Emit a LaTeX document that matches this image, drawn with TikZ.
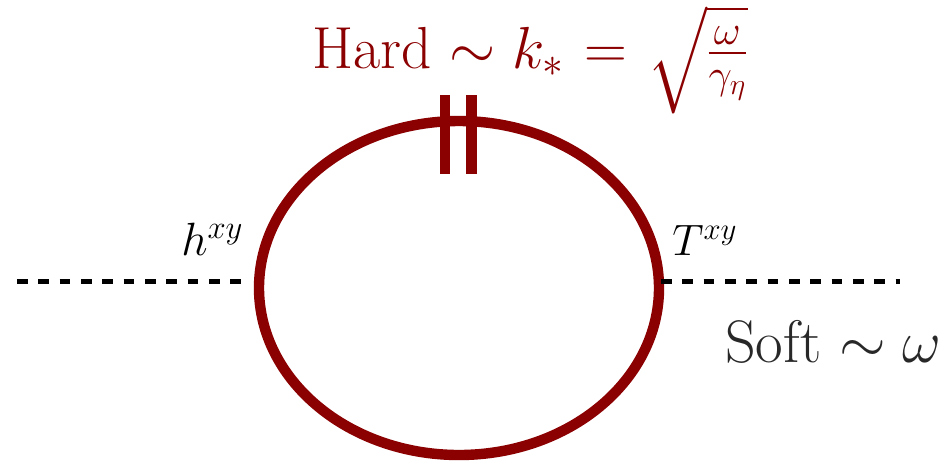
\RequirePackage{fix-cm}
\documentclass[tikz,border=0pt]{standalone}
\usepackage{amsmath}
\DeclareFontFamily{OMX}{cmex}{}
\DeclareFontShape{OMX}{cmex}{m}{n}{<-> cmex10}{}
\definecolor{darkred}{RGB}{139,0,0}
\definecolor{softgray}{RGB}{40,40,40}
\begin{document}
\begin{tikzpicture}[
    x=0.75pt, y=-0.75pt,
    loopline/.style={draw=darkred, line width=7.8pt},
    softline/.style={draw=black, line width=3.75pt, dash pattern=on 8pt off 8pt},
    cutline/.style={draw=darkred, line width=7.8pt},
    hardlabel/.style={text=darkred, font=\fontsize{44.5}{52}\selectfont, inner sep=0pt, anchor=base west},
    softlabel/.style={text=softgray, font=\fontsize{45}{52}\selectfont, inner sep=0pt, anchor=base west},
    vertexlabel/.style={text=black, font=\fontsize{35}{40}\selectfont, inner sep=0pt, anchor=base west},
]
\useasboundingbox (0,0) rectangle (943,462);
\coordinate (left) at (247,281);
\coordinate (right) at (661,281);
\coordinate (cuta) at (445,95);
\coordinate (cutb) at (445,174);
\coordinate (cutc) at (471.5,95);
\coordinate (cutd) at (471.5,174);
\coordinate (inleg) at (17,281);
\coordinate (outleg) at (900,281);
\draw[loopline] (459,288) ellipse [x radius=200, y radius=167];
\draw[softline] (inleg) -- (left);
\draw[softline] (right) -- (outleg);
\draw[cutline] (cuta) -- (cutb);
\draw[cutline] (cutc) -- (cutd);
\node[hardlabel] (hard) at (312,68) {Hard $\sim k_* \kern3pt= \kern3pt\sqrt{\frac{\omega}{\gamma_\eta}}$};
\node[vertexlabel] (hxy) at (181,255) {$h^{xy}$};
\node[vertexlabel, font=\fontsize{33}{40}\selectfont] (txy) at (672,255) {$T^{xy}$};
\node[softlabel] (soft) at (725,362) {Soft $\sim \omega$};
\end{tikzpicture}
\end{document}
